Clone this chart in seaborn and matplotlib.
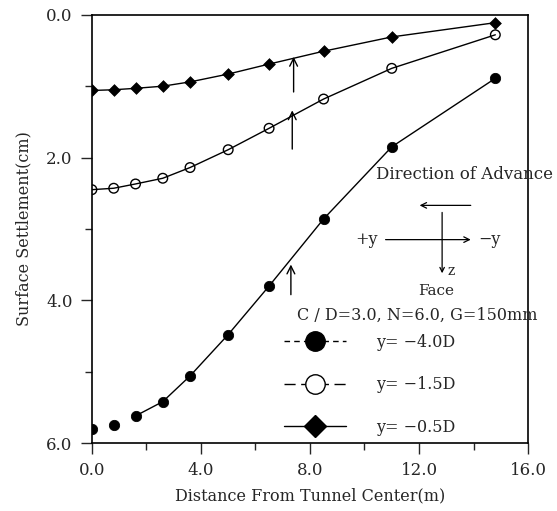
import matplotlib
matplotlib.use("Agg")
import matplotlib.pyplot as plt
import seaborn as sns
import pandas as pd
import numpy as np
from matplotlib.lines import Line2D
from matplotlib.ticker import MultipleLocator, FormatStrFormatter

# ---- data ----
distance = [0.0, 0.8, 1.6, 2.6, 3.6, 5.0, 6.5, 8.5, 11.0, 14.8]
settle_4_0D = [5.81, 5.75, 5.62, 5.42, 5.06, 4.48, 3.80, 2.86, 1.85, 0.89]
settle_1_5D = [2.45, 2.43, 2.37, 2.29, 2.14, 1.89, 1.59, 1.18, 0.75, 0.28]
settle_0_5D = [1.06, 1.05, 1.03, 1.00, 0.94, 0.83, 0.69, 0.51, 0.31, 0.11]
series_labels = ["y= \u22124.0D", "y= \u22121.5D", "y= \u22120.5D"]

# face position arrows (x, y_tail, y_head)
arrow_x = [7.4, 7.35, 7.3]
arrow_tail = [1.12, 1.92, 3.96]
arrow_head = [0.55, 1.30, 3.46]

sns.set_style("ticks")
plt.rcParams["font.family"] = ["DejaVu Serif"]
plt.rcParams["font.size"] = 11

fig = plt.figure(figsize=(5.57, 5.11), dpi=100)
ax = fig.add_axes([0.165, 0.133, 0.783, 0.838])

df4 = pd.DataFrame({"x": distance, "y": settle_4_0D})
df15 = pd.DataFrame({"x": distance, "y": settle_1_5D})
df05 = pd.DataFrame({"x": distance, "y": settle_0_5D})

lw = 1.0
sns.lineplot(data=df4.iloc[2:], x="x", y="y", ax=ax, color="black", lw=lw, sort=False)
sns.lineplot(data=df15, x="x", y="y", ax=ax, color="black", lw=lw, sort=False)
sns.lineplot(data=df05, x="x", y="y", ax=ax, color="black", lw=lw, sort=False)

sns.scatterplot(data=df4, x="x", y="y", ax=ax, marker="o", s=55,
                color="black", edgecolor="black", zorder=5)
sns.scatterplot(data=df15, x="x", y="y", ax=ax, marker="o", s=48,
                facecolor="none", edgecolor="black", linewidth=1.0, zorder=5)
sns.scatterplot(data=df05, x="x", y="y", ax=ax, marker="D", s=36,
                color="black", edgecolor="black", zorder=5)

for xa, yt, yh in zip(arrow_x, arrow_tail, arrow_head):
    ax.annotate("", xy=(xa, yh), xytext=(xa, yt),
                arrowprops=dict(arrowstyle="->", color="black", lw=1.0,
                                mutation_scale=14))

ax.set_xlim(0, 16)
ax.set_ylim(6, 0)
ax.xaxis.set_major_locator(MultipleLocator(4))
ax.xaxis.set_minor_locator(MultipleLocator(2))
ax.yaxis.set_major_locator(MultipleLocator(2))
ax.yaxis.set_minor_locator(MultipleLocator(1))
ax.xaxis.set_major_formatter(FormatStrFormatter("%.1f"))
ax.yaxis.set_major_formatter(FormatStrFormatter("%.1f"))
ax.tick_params(which="major", direction="out", length=8, width=1, labelsize=12, pad=6)
ax.tick_params(which="minor", direction="out", length=5, width=1)
for sp in ax.spines.values():
    sp.set_linewidth(1.2)
    sp.set_color("black")

ax.set_xlabel("Distance From Tunnel Center(m)", fontsize=11.5, labelpad=6)
ax.set_ylabel("Surface Settlement(cm)", fontsize=11.5, labelpad=10)

# direction of advance diagram (axes fraction coords)
tr = ax.transAxes
ax.text(0.855, 0.627, "Direction of Advance", transform=tr, ha="center",
        va="center", fontsize=12, clip_on=False)
ax.annotate("", xy=(0.745, 0.555), xytext=(0.875, 0.555), xycoords=tr,
            arrowprops=dict(arrowstyle="->", lw=0.9, color="black", mutation_scale=10))
ax.annotate("", xy=(0.875, 0.475), xytext=(0.667, 0.475), xycoords=tr,
            arrowprops=dict(arrowstyle="->", lw=0.9, color="black", mutation_scale=10))
ax.annotate("", xy=(0.803, 0.39), xytext=(0.803, 0.545), xycoords=tr,
            arrowprops=dict(arrowstyle="->", lw=0.9, color="black", mutation_scale=8))
ax.text(0.655, 0.475, "+y", transform=tr, ha="right", va="center", fontsize=11.5)
ax.text(0.885, 0.475, "\u2212y", transform=tr, ha="left", va="center", fontsize=11.5)
ax.text(0.815, 0.402, "z", transform=tr, ha="left", va="center", fontsize=10)
ax.text(0.79, 0.355, "Face", transform=tr, ha="center", va="center", fontsize=11)
ax.text(0.745, 0.299, "C / D=3.0, N=6.0, G=150mm", transform=tr, ha="center",
        va="center", fontsize=11.5, clip_on=False)

handles = [
    Line2D([], [], color="black", lw=1.0, ls=(0, (4, 3)), marker="o", markersize=14,
           markerfacecolor="black", markeredgecolor="black"),
    Line2D([], [], color="black", lw=1.0, ls=(0, (8, 4)), marker="o", markersize=14,
           markerfacecolor="white", markeredgecolor="black"),
    Line2D([], [], color="black", lw=1.0, ls="-", marker="D", markersize=11,
           markerfacecolor="black", markeredgecolor="black"),
]
ax.legend(handles, series_labels, loc="upper left", bbox_to_anchor=(0.44, 0.255),
          frameon=False, borderpad=0, borderaxespad=0, handlelength=3.9,
          handletextpad=1.9, labelspacing=1.6, fontsize=11.5)

fig.savefig("out.png", dpi=100)
